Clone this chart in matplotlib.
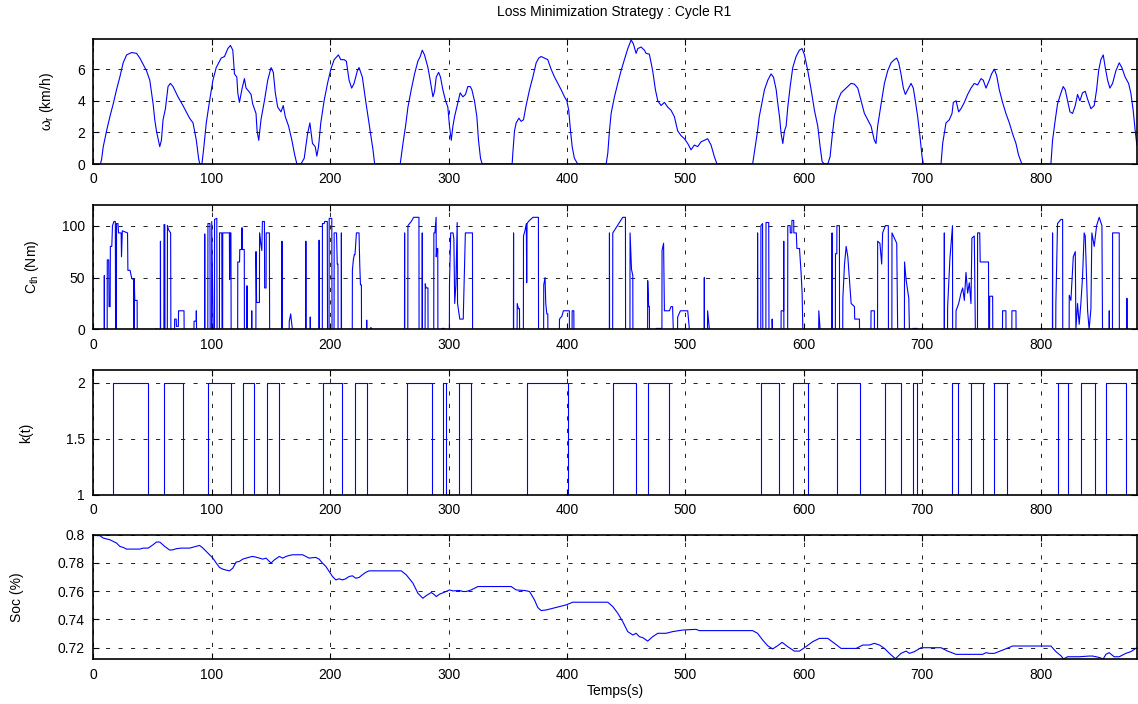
#loss_min_cycle.py

import numpy as np
import matplotlib
matplotlib.use('Agg')
import matplotlib.pyplot as plt
from matplotlib.ticker import FormatStrFormatter

plt.rcParams['font.family'] = ['Liberation Sans', 'DejaVu Sans']
plt.rcParams['mathtext.fontset'] = 'custom'
plt.rcParams['mathtext.rm'] = 'Liberation Sans'
plt.rcParams['mathtext.it'] = 'Liberation Sans'

#speed of the wheel (t [s], km/h)
speed_pts = [
    (0, 0), (6, 0), (7, 0.3), (8.4, 1.1), (11.2, 2.1), (14.0, 3.0), (16.8, 3.8), (19.6, 4.7),
    (22.4, 5.5), (25.2, 6.4), (28.1, 6.9), (32.3, 7.05), (36.5, 7.0), (39.3, 6.7), (44.9, 5.9),
    (47.7, 5.3), (50.5, 3.8), (51.9, 2.8), (53.3, 2.1), (56.1, 1.1), (57.5, 1.5), (58.9, 2.8),
    (60.9, 3.5), (63.1, 4.9), (65.1, 5.1), (67.3, 4.9), (71.5, 4.25), (75.7, 3.7), (81.3, 2.9),
    (84.2, 2.6), (87.0, 1.5), (88.9, 0.36), (89.8, 0.04), (91.7, 0), (93.1, 0.9), (95.4, 2.6),
    (98.2, 4.0), (101.0, 5.3), (103.8, 6.1), (108.0, 6.7), (110.8, 6.8), (113.6, 7.3), (115.8, 7.5),
    (117.8, 7.2), (119.2, 5.7), (121.2, 5.5), (122.0, 4.5), (123.4, 3.9), (125.7, 4.8), (127.6, 5.4),
    (129.0, 4.8), (131.3, 4.6), (133.2, 4.4), (134.6, 3.8), (137.4, 3.2), (138.3, 2.1), (139.7, 1.5),
    (141.6, 2.8), (144.5, 4.0), (147.3, 5.3), (150.1, 6.1), (152.0, 5.8), (153.7, 4.5), (155.7, 3.6),
    (158.5, 3.3), (160.4, 3.7), (162.1, 3.0), (164.9, 2.4), (167.7, 1.5), (170.0, 0.6), (171.9, 0),
    (175.3, 0), (178.1, 0.36), (180.9, 1.9), (182.9, 2.6), (185.1, 1.3), (187.4, 1.1), (188.8, 0.5),
    (190.2, 1.1), (192.1, 2.6), (194.9, 4.0), (197.8, 5.1), (200.6, 6.0), (203.4, 6.6), (207.0, 6.9),
    (209.0, 6.6), (211.8, 6.6), (213.7, 6.5), (216.0, 5.3), (218.2, 4.8), (220.2, 5.1), (223.0, 5.9),
    (224.4, 6.1), (227.2, 5.5), (230.0, 4.0), (232.8, 2.6), (234.2, 1.9), (236.2, 0.9), (237.6, 0),
    (259.2, 0), (261.5, 1.3), (263.7, 2.4), (265.7, 3.6), (268.5, 4.7), (271.3, 5.7), (274.1, 6.5),
    (276.1, 6.8), (277.8, 7.2), (279.7, 6.9), (282.6, 6.1), (284.5, 5.3), (286.8, 4.25), (288.2, 4.6),
    (289.6, 5.5), (291.6, 5.8), (293.2, 5.5), (295.2, 4.7), (297.5, 4.0), (299.4, 3.6), (300.8, 2.4),
    (302.3, 1.5), (303.7, 2.4), (305.1, 3.0), (307.3, 3.7), (309.8, 4.5), (312.1, 4.25), (314.3, 4.4),
    (316.3, 4.9), (318.3, 4.9), (319.7, 4.7), (321.9, 4.0), (323.9, 3.0), (325.3, 1.5), (327.0, 0.36),
    (328.4, 0), (353.7, 0), (354.3, 0.7), (355.7, 2.1), (357.1, 2.6), (359.4, 2.9), (361.3, 2.7),
    (363.3, 2.8), (365.5, 3.7), (368.4, 4.7), (371.2, 5.5), (374.0, 6.4), (376.2, 6.7), (378.2, 6.8),
    (381.0, 6.7), (383.8, 6.6), (386.6, 6.0), (389.5, 5.5), (392.3, 5.1), (395.1, 4.7), (397.9, 4.25),
    (399.9, 4.0), (401.5, 3.4), (403.0, 2.1), (404.4, 1.1), (406.3, 0.36), (409.1, 0), (433.1, 0),
    (434.5, 0.7), (435.9, 2.1), (437.3, 3.2), (440.1, 4.25), (442.9, 5.1), (445.7, 5.9), (448.5, 6.6),
    (451.4, 7.3), (454.2, 7.85), (456.1, 7.6), (458.4, 7.0), (459.8, 7.3), (462.6, 7.4), (465.4, 7.2),
    (466.8, 7.0), (469.6, 6.95), (472.4, 5.9), (474.7, 4.7), (476.7, 4.0), (479.5, 3.7), (482.3, 3.9),
    (485.1, 3.6), (487.9, 3.4), (490.7, 3.0), (493.5, 2.1), (496.3, 1.8), (499.2, 1.6), (502.0, 1.3),
    (504.8, 0.9), (507.6, 1.2), (510.4, 1.1), (513.2, 1.4), (516.0, 1.5), (518.8, 1.6), (521.7, 1.2),
    (524.5, 0.46), (526.7, 0), (556.8, 0), (558.2, 0.7), (561.0, 2.1), (562.4, 3.0), (564.0, 3.6),
    (566.8, 4.7), (569.6, 5.3), (572.4, 5.7), (574.4, 5.5), (576.7, 4.7), (578.1, 3.8), (579.5, 3.0),
    (580.9, 1.9), (582.3, 1.3), (583.7, 2.1), (585.1, 2.4), (586.5, 3.6), (588.5, 4.9), (590.7, 6.1),
    (593.5, 6.8), (596.3, 7.2), (598.6, 7.3), (600.6, 6.9), (603.4, 5.9), (606.2, 4.7), (609.0, 3.4),
    (611.8, 2.4), (613.8, 1.1), (615.5, 0.15), (617.4, 0), (620.3, 0), (622.2, 0.46), (623.9, 1.7),
    (625.9, 3.0), (628.7, 4.0), (631.5, 4.5), (634.3, 4.7), (637.1, 4.9), (639.9, 5.1), (642.8, 5.05),
    (645.6, 4.8), (648.4, 4.0), (651.2, 3.2), (654.0, 2.8), (656.8, 2.4), (659.6, 1.5), (661.0, 1.3),
    (662.4, 2.4), (665.3, 3.8), (668.1, 5.1), (670.9, 5.9), (673.7, 6.4), (676.5, 6.6), (678.5, 6.7),
    (680.2, 6.4), (682.1, 5.7), (684.1, 4.8), (685.8, 4.4), (687.8, 4.7), (690.6, 5.1), (692.5, 4.8),
    (694.2, 4.0), (696.2, 3.0), (698.2, 1.7), (699.9, 0.46), (701.0, 0), (715.9, 0), (717.3, 1.3),
    (720.1, 2.6), (722.9, 2.8), (725.2, 3.2), (726.3, 3.9), (728.6, 4.0), (730.8, 3.3), (732.8, 3.5),
    (735.6, 3.9), (738.4, 4.4), (741.2, 4.8), (744.0, 5.1), (746.8, 5.0), (749.7, 5.4), (751.6, 5.3),
    (753.9, 4.8), (756.7, 5.3), (758.6, 5.7), (760.9, 6.0), (762.9, 5.6), (765.1, 4.7), (767.9, 3.9),
    (770.7, 3.2), (773.6, 2.6), (776.4, 1.9), (779.2, 1.3), (781.4, 0.57), (784.2, 0), (808.7, 0),
    (810.1, 1.5), (812.4, 2.8), (814.3, 3.8), (817.2, 4.5), (819.1, 4.9), (820.8, 4.7), (822.8, 4.0),
    (824.8, 3.3), (827.0, 3.2), (829.3, 3.7), (831.2, 4.4), (833.2, 4.0), (835.4, 4.5), (837.7, 4.6),
    (839.7, 4.1), (842.5, 3.5), (845.3, 3.7), (847.3, 4.7), (849.0, 5.9), (850.9, 6.6), (852.9, 6.9),
    (854.6, 6.1), (856.6, 5.3), (858.5, 4.8), (860.8, 5.1), (863.6, 5.9), (866.4, 6.4), (868.6, 6.1),
    (871.4, 5.5), (874.3, 5.1), (876.2, 4.5), (878.2, 3.4), (879.9, 2.1), (881.3, 1.2),
]

#engine torque C_th (t [s], Nm)
torque_pts = [
    (0, 0), (9.2, 0), (9.3, 52), (9.4, 0),
    (11.7, 0), (11.8, 67), (13.0, 67), (13.3, 22), (14.2, 22), (14.4, 80), (15.6, 80), (16.2, 100),
    (17.4, 104), (18.6, 104), (18.8, 0),
    (19.5, 0), (19.6, 102), (20.8, 102), (21.3, 93), (23.5, 93), (23.8, 70), (24.5, 95), (28.9, 93),
    (29.2, 57), (31.0, 57), (32.5, 49), (34.2, 48), (34.3, 0), (34.6, 48), (35.0, 28), (37.0, 28), (37.1, 0),
    (53.2, 0), (53.3, 1), (53.5, 0),
    (56.6, 0), (56.7, 85), (56.8, 0),
    (59.6, 0), (59.7, 101), (60.4, 101), (60.5, 0), (62.5, 0), (62.6, 100), (63.5, 96), (65.3, 93), (65.5, 0),
    (68.6, 0), (68.7, 10), (70.0, 10), (70.2, 3), (71.8, 3), (72.0, 18), (76.6, 18), (76.7, 0),
    (85.0, 0), (85.1, 8), (86.9, 8), (87.0, 18), (87.2, 0),
    (94.0, 0), (94.1, 92), (94.2, 0),
    (96.7, 0), (96.8, 102), (98.5, 102), (98.7, 0), (99.9, 0), (100.0, 104), (101.2, 0), (102.3, 0),
    (102.4, 106), (104.3, 107), (104.5, 0),
    (106.5, 0), (106.6, 93), (108.5, 93), (108.7, 0), (109.2, 0), (109.3, 93), (114.9, 93), (115.1, 48),
    (115.4, 93), (116.2, 93), (116.4, 0),
    (121.9, 0), (122.0, 65), (123.5, 65), (123.7, 77), (125.5, 77), (125.6, 98), (125.7, 77), (127.5, 77), (127.6, 0),
    (129.5, 0), (129.6, 42), (130.0, 42), (130.1, 0), (133.7, 0), (133.8, 18), (133.9, 0),
    (137.3, 0), (137.4, 75), (137.9, 26), (140.3, 26), (140.4, 93), (141.3, 84), (142.3, 76), (142.8, 104),
    (144.5, 104), (144.7, 40), (145.9, 40), (146.0, 93), (148.7, 93), (148.9, 0),
    (159.2, 0), (159.3, 85), (159.4, 0),
    (165.4, 0), (165.5, 8), (166.7, 15), (167.3, 8), (168.2, 0),
    (179.4, 0), (179.5, 85), (179.6, 0), (183.1, 0), (183.2, 12), (183.4, 0),
    (190.6, 0), (190.7, 86), (190.8, 0),
    (193.4, 0), (193.5, 102), (195.0, 102), (195.4, 104), (197.6, 104), (197.8, 0), (199.1, 0), (199.2, 107),
    (201.4, 107), (201.6, 0),
    (203.3, 0), (203.4, 93), (205.4, 93), (206.0, 63), (206.6, 63), (206.7, 0),
    (209.4, 0), (209.5, 93), (209.6, 0),
    (218.7, 0), (218.8, 57), (219.6, 67), (220.4, 72), (221.0, 72), (222.2, 93), (224.4, 93), (225.0, 63),
    (225.6, 43), (226.4, 43), (226.5, 0),
    (230.8, 0), (230.9, 9), (231.0, 0), (234.0, 0), (234.4, 2), (235.4, 0),
    (262.8, 0), (262.9, 93), (263.0, 0),
    (265.6, 0), (265.7, 100), (268.5, 104), (270.5, 108), (275.0, 108), (275.1, 0),
    (277.7, 0), (277.8, 93), (277.9, 0),
    (280.2, 0), (280.3, 44), (281.0, 40), (282.6, 40), (282.7, 0),
    (287.5, 0), (287.6, 93), (288.5, 93), (289.5, 108), (289.6, 70), (290.2, 78), (290.9, 78), (291.0, 0),
    (294.4, 0), (294.5, 1), (296.6, 1), (296.7, 0),
    (300.7, 0), (300.8, 44), (301.8, 93), (303.8, 93), (304.5, 87), (305.2, 25), (306.2, 43), (307.3, 103),
    (307.6, 25), (309.5, 10), (312.4, 10), (313.8, 73), (314.2, 93), (320.2, 93), (320.3, 0),
    (354.8, 0), (354.9, 93), (355.0, 0),
    (357.9, 0), (358.0, 25), (359.0, 20), (359.9, 20), (360.0, 0),
    (363.2, 0), (363.3, 90), (364.5, 95), (365.7, 102), (366.0, 45), (366.3, 102), (367.5, 104), (371.2, 108),
    (375.9, 108), (376.0, 0),
    (380.3, 0), (380.4, 43), (381.5, 50), (382.1, 25), (383.0, 15), (383.8, 15), (383.9, 0),
    (393.6, 0), (393.7, 10), (395.8, 13), (397.0, 18), (402.0, 18), (402.1, 0), (404.3, 0), (404.4, 18),
    (405.8, 18), (405.9, 0),
    (435.8, 0), (435.9, 93), (436.0, 0),
    (438.6, 0), (438.7, 93), (447.1, 108), (449.4, 108), (449.5, 0),
    (453.2, 0), (453.3, 93), (454.5, 58), (455.6, 52), (455.7, 0),
    (468.1, 0), (468.2, 47), (469.0, 22), (469.6, 22), (469.7, 0),
    (475.1, 0), (475.2, 1), (480.2, 1), (480.3, 76), (481.6, 83), (482.3, 18), (486.5, 18), (487.9, 22),
    (489.2, 22), (489.8, 0),
    (493.4, 0), (493.5, 12), (495.8, 18), (502.0, 18), (503.4, 0),
    (515.9, 0), (516.0, 50), (516.1, 0), (518.7, 0), (518.8, 18), (520.3, 0),
    (560.9, 0), (561.0, 93), (561.2, 0), (563.7, 0), (563.8, 100), (565.2, 102), (565.4, 0), (568.0, 0),
    (568.1, 103), (570.4, 103), (570.6, 0),
    (573.2, 0), (573.3, 10), (573.6, 0),
    (580.8, 0), (580.9, 18), (583.0, 18), (583.1, 85), (583.2, 0),
    (586.4, 0), (586.5, 100), (588.5, 100), (588.6, 93), (589.9, 93), (590.0, 105), (591.5, 105), (591.6, 93),
    (593.7, 93), (594.2, 78), (596.4, 78), (597.8, 53), (598.6, 35), (599.2, 0),
    (612.6, 0), (612.7, 18), (613.8, 0),
    (623.8, 0), (623.9, 93), (624.0, 0), (626.7, 0), (626.8, 73), (627.9, 73), (628.0, 100), (630.1, 100), (630.2, 0),
    (632.9, 0), (633.0, 30), (634.4, 63), (635.8, 80), (637.2, 70), (638.6, 48), (640.0, 25), (642.8, 22),
    (643.0, 10), (647.0, 10), (647.1, 0),
    (656.7, 0), (656.8, 18), (659.6, 18), (659.7, 0),
    (662.3, 0), (662.4, 85), (664.3, 83), (665.8, 63), (666.6, 93), (668.9, 100), (671.4, 100), (671.5, 0),
    (674.4, 0), (674.5, 93), (676.5, 88), (678.5, 83), (679.3, 0),
    (685.0, 0), (685.1, 65), (686.4, 48), (688.7, 30), (689.2, 0),
    (692.0, 0), (692.1, 1), (696.0, 1), (696.1, 0),
    (718.6, 0), (718.7, 93), (718.8, 0), (721.4, 0), (721.5, 22), (723.4, 68), (725.6, 100), (725.7, 0),
    (728.5, 0), (728.6, 18), (730.8, 25), (732.8, 35), (734.2, 40), (735.6, 28), (737.0, 55), (738.4, 35),
    (739.8, 45), (741.2, 25), (742.0, 88), (744.0, 90), (744.9, 0),
    (746.7, 0), (746.8, 93), (748.6, 93), (749.0, 65), (756.0, 65), (756.2, 0), (756.9, 0), (757.0, 32),
    (759.5, 32), (759.6, 0),
    (767.8, 0), (767.9, 18), (770.7, 18), (770.8, 0), (775.7, 0), (775.8, 18), (779.2, 18), (779.3, 0),
    (810.0, 0), (810.1, 93), (810.2, 0),
    (812.8, 0), (812.9, 25), (814.3, 102), (817.2, 106), (818.6, 106), (818.7, 0),
    (824.1, 0), (824.2, 33), (825.6, 28), (827.6, 70), (829.3, 75), (829.8, 0), (831.2, 25), (832.6, 5),
    (834.0, 25), (835.4, 50), (836.8, 93), (837.7, 90), (839.7, 18), (841.0, 0), (842.5, 20), (843.3, 93),
    (845.3, 80), (847.3, 100), (849.5, 108), (851.8, 100), (852.3, 0),
    (857.9, 0), (858.0, 18), (858.1, 0),
    (860.7, 0), (860.8, 93), (866.4, 93), (866.5, 0),
    (872.8, 0), (872.9, 30), (873.0, 0), (881.3, 0),
]

#intervals where k(t) = 2 (otherwise 1)
k_on = [16.6, 59.8, 96.9, 126.7, 146.3, 194.2, 220.9, 264.5, 295.1, 308.9, 366.6, 438.8,
        468.5, 563.9, 590.8, 628.1, 668.5, 692.0, 725.4, 741.6, 760.9, 814.7, 833.9, 855.4]
k_off = [46.0, 76.1, 116.3, 135.9, 156.4, 210.4, 231.3, 286.2, 298.2, 319.0, 400.9, 458.1,
         486.5, 578.9, 603.5, 647.4, 682.0, 696.0, 730.6, 751.7, 771.3, 823.5, 845.6, 872.5]

#battery state of charge
soc_pts = [
    (0, 0.7995), (5.6, 0.7993), (8.4, 0.7976), (14.0, 0.7964), (19.6, 0.7941), (22.4, 0.7917),
    (25.2, 0.791), (28.1, 0.7898), (39.3, 0.7898), (42.1, 0.7905), (46.3, 0.7905), (50.5, 0.7929),
    (53.3, 0.7948), (56.1, 0.7948), (60.3, 0.7917), (64.5, 0.7891), (67.3, 0.7893), (70.1, 0.7901),
    (74.3, 0.7905), (81.3, 0.7905), (85.6, 0.7915), (89.8, 0.7924), (92.6, 0.7905), (96.8, 0.787),
    (101.0, 0.7834), (103.8, 0.7799), (106.6, 0.7768), (109.4, 0.7756), (112.2, 0.7749), (115.0, 0.7744),
    (117.8, 0.7763), (120.6, 0.7806), (123.4, 0.7811), (126.2, 0.7827), (129.0, 0.7834), (131.8, 0.7841),
    (134.6, 0.7846), (137.4, 0.7841), (140.3, 0.7834), (143.1, 0.7827), (145.9, 0.7834), (150.1, 0.7799),
    (152.9, 0.7822), (157.1, 0.7846), (159.9, 0.7834), (162.7, 0.7846), (165.5, 0.7853), (168.3, 0.7858),
    (176.7, 0.7858), (179.5, 0.7846), (182.3, 0.7834), (185.1, 0.7837), (187.9, 0.7839), (190.7, 0.7827),
    (193.5, 0.7799), (196.4, 0.7775), (199.2, 0.774), (202.0, 0.7704), (204.8, 0.768), (207.6, 0.7688),
    (210.4, 0.768), (213.2, 0.7688), (216.0, 0.7704), (218.8, 0.7709), (221.6, 0.7692), (224.4, 0.7697),
    (227.2, 0.7716), (230.0, 0.7733), (232.8, 0.7744), (260.1, 0.7744), (264.3, 0.7716), (269.9, 0.7657),
    (274.1, 0.7586), (278.3, 0.755), (281.2, 0.7569), (285.4, 0.7591), (288.2, 0.7574), (289.6, 0.7562),
    (292.4, 0.7579), (296.6, 0.7593), (300.8, 0.7609), (303.7, 0.7602), (309.3, 0.7605), (312.1, 0.7598),
    (314.9, 0.7598), (319.1, 0.7609), (324.8, 0.7633), (352.9, 0.7633), (357.1, 0.7609), (364.1, 0.7605),
    (368.4, 0.7598), (372.6, 0.7538), (375.4, 0.7484), (378.2, 0.7463), (382.4, 0.7467), (388.0, 0.7479),
    (393.7, 0.7491), (399.3, 0.7503), (404.9, 0.7522), (434.5, 0.7522), (438.7, 0.7491), (442.9, 0.7444),
    (447.1, 0.7385), (451.3, 0.7314), (455.6, 0.729), (458.4, 0.7302), (461.2, 0.7278), (464.0, 0.7271),
    (468.2, 0.7247), (472.4, 0.7278), (476.7, 0.7302), (483.7, 0.7302), (489.3, 0.7314), (497.7, 0.7325),
    (509.0, 0.733), (511.8, 0.7321), (556.8, 0.7321), (561.0, 0.7302), (565.3, 0.7254), (569.5, 0.7214),
    (573.7, 0.7191), (577.9, 0.7214), (581.7, 0.7238), (586.5, 0.7207), (592.1, 0.7176), (596.3, 0.7176),
    (600.6, 0.72), (607.6, 0.7243), (613.2, 0.7266), (620.3, 0.7266), (625.9, 0.7231), (631.5, 0.7195),
    (644.2, 0.7195), (649.8, 0.7219), (655.4, 0.7219), (659.6, 0.7231), (663.9, 0.7219), (668.1, 0.7195),
    (672.3, 0.716), (677.4, 0.7122), (682.1, 0.716), (686.4, 0.7176), (689.2, 0.716), (693.4, 0.7172),
    (699.0, 0.72), (715.9, 0.72), (721.5, 0.7176), (728.6, 0.7153), (751.1, 0.7153), (753.9, 0.7165),
    (756.7, 0.716), (760.9, 0.716), (767.9, 0.7183), (776.4, 0.7212), (808.7, 0.7212), (813.0, 0.7172),
    (817.2, 0.7143), (819.4, 0.712), (822.8, 0.7136), (832.6, 0.7136), (841.1, 0.7141), (843.9, 0.7141),
    (849.5, 0.7131), (852.9, 0.712), (855.1, 0.7153), (857.9, 0.7165), (862.1, 0.7136), (866.4, 0.7136),
    (872.0, 0.716), (876.2, 0.7172), (881.3, 0.72),
]

xticks = [0, 100, 200, 300, 400, 500, 600, 700, 800]

t_w, w = np.array(speed_pts).T
t_c, c = np.array(torque_pts).T
t_s, soc = np.array(soc_pts).T

#build the k(t) square wave
t_k = [0]
k = [1]
for a, b in zip(k_on, k_off):
    t_k += [a, a, b, b]
    k += [1, 2, 2, 1]
t_k.append(881.3)
k.append(1)

fig = plt.figure(figsize=(11.38, 7.04), dpi=100)

left, width, height = 0.082, 0.917, 0.177
bottoms = [0.767, 0.532, 0.297, 0.0635]
axes = [fig.add_axes([left, b, width, height]) for b in bottoms]

series = [(t_w, w), (t_c, c), (t_k, k), (t_s, soc)]
ylims = [(0, 7.88), (0, 120), (1, 2.11), (0.7118, 0.8)]
yticks = [[0, 2, 4, 6], [0, 50, 100], [1, 1.5, 2], [0.72, 0.74, 0.76, 0.78, 0.8]]
ylabels = [r'$\omega_r$ (km/h)', r'$C_{th}$ (Nm)', 'k(t)', 'Soc (%)']
labelx = [-0.036, -0.05, -0.058, -0.066]

for ax, (x, y), yl, yt, lab, lx in zip(axes, series, ylims, yticks, ylabels, labelx):
    ax.plot(x, y, color='#0000ff', lw=0.8)
    ax.set_xlim(0, 881.3)
    ax.set_ylim(*yl)
    ax.set_xticks(xticks)
    ax.set_yticks(yt)
    ax.yaxis.set_major_formatter(FormatStrFormatter('%g'))
    ax.grid(True, color='k', linestyle=(0, (5, 10)), linewidth=0.6)
    ax.tick_params(direction='in', top=True, right=True, length=4, labelsize=10, pad=6)
    for s in ax.spines.values():
        s.set_linewidth(1.2)
    ax.set_ylabel(lab, fontsize=10)
    ax.yaxis.set_label_coords(lx, 0.5)

axes[3].set_xlabel('Temps(s)', fontsize=10, labelpad=2)
fig.text(0.54, 1 - 12 / 704, 'Loss Minimization Strategy : Cycle R1', ha='center', va='center', fontsize=10)

fig.savefig('out.png', dpi=100)
